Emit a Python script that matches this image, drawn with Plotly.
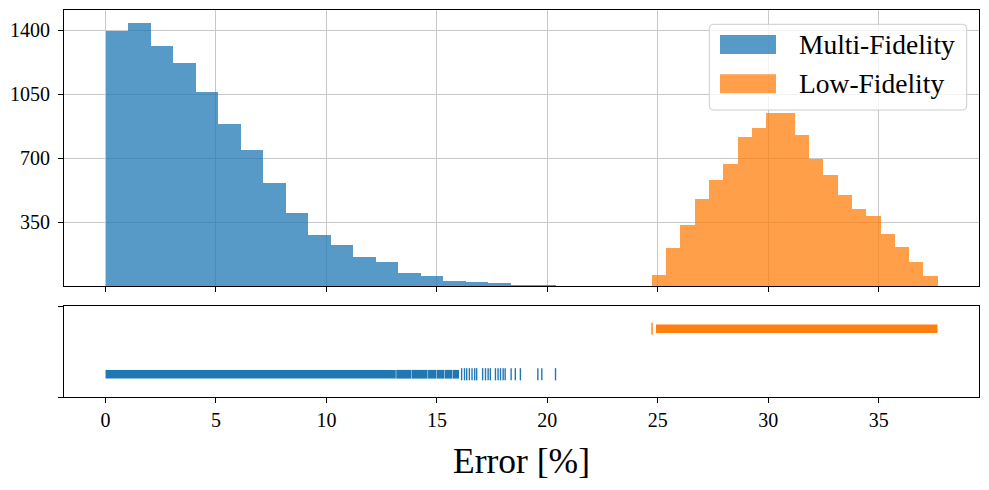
import plotly.graph_objects as go

# ---------------- data ----------------
mf_counts = [1395, 1440, 1314, 1223, 1063, 888, 746, 565, 401, 281,
             226, 160, 133, 73, 57, 29, 24, 18, 7, 5]
mf_range = [0.0, 20.37]
lf_counts = [62, 210, 335, 478, 582, 669, 817, 866, 948, 948,
             828, 696, 609, 500, 423, 385, 286, 215, 133, 57]
lf_range = [24.73, 37.67]

# rug: dense runs (start, end) and isolated samples
mf_rug_runs = [(0.0, 13.14), (13.16, 13.83), (13.85, 14.58), (14.60, 14.96),
               (14.98, 15.34), (15.36, 15.69), (15.71, 16.0)]
mf_rug_points = [16.12, 16.25, 16.35, 16.47, 16.59, 16.71, 16.80, 17.07, 17.20,
                 17.32, 17.42, 17.65, 17.77, 17.88, 18.00, 18.09, 18.36, 18.55,
                 18.78, 19.57, 19.75, 20.37]
lf_rug_runs = [(24.92, 37.66)]
lf_rug_points = [24.74]

x_ticks = [0, 5, 10, 15, 20, 25, 30, 35]
y_ticks = [350, 700, 1050, 1400]
labels = ["Multi-Fidelity", "Low-Fidelity"]

BLUE = "#1f77b4"
ORANGE = "#ff7f0e"
FONT = "Liberation Serif"

W, H = 989, 490
L, R, T, B = 64, 10, 10, 93
PW, PH = W - L - R, H - T - B


def px(x):
    return (x - L) / PW


def py(y):
    return (H - B - y) / PH


def bins(counts, rng):
    n = len(counts)
    w = (rng[1] - rng[0]) / n
    return [rng[0] + w * (i + 0.5) for i in range(n)], w


def runs_xy(runs, y):
    xs, ys = [], []
    for a, b in runs:
        xs += [a, b, None]
        ys += [y, y, None]
    return xs, ys


fig = go.Figure()

for counts, rng, col in [(mf_counts, mf_range, BLUE), (lf_counts, lf_range, ORANGE)]:
    cx, w = bins(counts, rng)
    fig.add_trace(go.Bar(x=cx, y=counts, width=w, marker=dict(color=col, line=dict(width=0)),
                         opacity=0.75, xaxis="x", yaxis="y", showlegend=False))

for runs, pts, yv, col in [(mf_rug_runs, mf_rug_points, 0, BLUE), (lf_rug_runs, lf_rug_points, 1, ORANGE)]:
    xs, ys = runs_xy(runs, yv)
    fig.add_trace(go.Scatter(x=xs, y=ys, mode="lines", line=dict(color=col, width=8.7),
                             xaxis="x2", yaxis="y2", showlegend=False, connectgaps=False))
    fig.add_trace(go.Scatter(x=pts, y=[yv] * len(pts), mode="markers",
                             marker=dict(symbol="line-ns", size=8.7, line=dict(color=col, width=1.4)),
                             xaxis="x2", yaxis="y2", showlegend=False))

xr = [-1.88, 39.54]
axis_common = dict(showline=True, mirror=True, linecolor="black", linewidth=1.2,
                   ticks="outside", ticklen=5, tickwidth=1.1, tickcolor="black",
                   zeroline=False, tickfont=dict(family=FONT, size=20, color="black"))

fig.update_layout(
    width=W, height=H,
    margin=dict(l=L, r=R, t=T, b=B),
    paper_bgcolor="white", plot_bgcolor="white",
    barmode="overlay", bargap=0,
    font=dict(family=FONT, color="black"),
    xaxis=dict(domain=[0, 1], anchor="y", range=xr, tickvals=x_ticks, showticklabels=False,
               showgrid=True, gridcolor="#c8c8c8", gridwidth=1, matches="x2", **axis_common),
    yaxis=dict(domain=[py(286.3), 1], anchor="x", range=[0, 1511], tickvals=y_ticks,
               showgrid=True, gridcolor="#c8c8c8", gridwidth=1, ticklabelstandoff=4, **axis_common),
    xaxis2=dict(domain=[0, 1], anchor="y2", range=xr, tickvals=x_ticks, showgrid=False,
                title=dict(text="Error [%]", font=dict(family=FONT, size=35.5, color="black"), standoff=18),
                **axis_common),
    yaxis2=dict(domain=[0, py(306)], anchor="x2", range=[-0.5, 1.5], tickvals=[-0.5, 1.5],
                ticktext=["", ""], showgrid=False, **axis_common),
)

# legend (drawn manually to mimic the wide patches)
shapes = []
x0, x1, y0, y1 = px(709.3), px(966.7), py(24.3), py(110)
rx, ry = 4 / PW, 4 / PH
path = (f"M{x0+rx},{y0} L{x1-rx},{y0} Q{x1},{y0} {x1},{y0-ry} L{x1},{y1+ry} Q{x1},{y1} {x1-rx},{y1} "
        f"L{x0+rx},{y1} Q{x0},{y1} {x0},{y1+ry} L{x0},{y0-ry} Q{x0},{y0} {x0+rx},{y0} Z")
shapes.append(dict(type="path", path=path, xref="paper", yref="paper",
                   fillcolor="rgba(255,255,255,0.8)", line=dict(color="#cccccc", width=1), layer="above"))
annotations = []
for i, (lab, col) in enumerate(zip(labels, [BLUE, ORANGE])):
    top = 35 + i * 39.3
    shapes.append(dict(type="rect", xref="paper", yref="paper", x0=px(720), x1=px(776),
                       y0=py(top), y1=py(top + 19), fillcolor=col, opacity=0.75,
                       line=dict(width=0), layer="above"))
    annotations.append(dict(text=lab, xref="paper", yref="paper", x=px(797), y=py(top + 9.5),
                            xanchor="left", yanchor="middle", showarrow=False,
                            font=dict(family=FONT, size=27.5, color="black")))
fig.update_layout(shapes=shapes, annotations=annotations)

fig.write_html("out.html", config={"displayModeBar": False},
               post_script="document.body.style.margin='0';document.body.style.padding='0';")
